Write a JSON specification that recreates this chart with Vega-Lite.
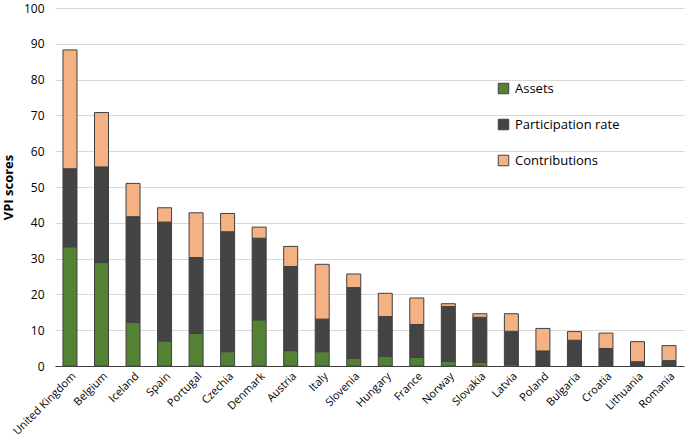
{
  "$schema": "https://vega.github.io/schema/vega-lite/v6.json",
  "width": 685,
  "height": 437,
  "autosize": {"type": "fit", "contains": "padding"},
  "padding": {"left": 2, "top": 2, "right": 1, "bottom": 0},
  "background": "white",
  "config": {
    "font": "Open Sans",
    "view": {"stroke": null}
  },
  "data": {
    "values": [
      {"country": "United Kingdom", "component": "Assets", "value": 33.3, "k": 1},
      {"country": "United Kingdom", "component": "Participation rate", "value": 21.8, "k": 2},
      {"country": "United Kingdom", "component": "Contributions", "value": 33.2, "k": 3},
      {"country": "Belgium", "component": "Assets", "value": 28.9, "k": 1},
      {"country": "Belgium", "component": "Participation rate", "value": 26.7, "k": 2},
      {"country": "Belgium", "component": "Contributions", "value": 15.2, "k": 3},
      {"country": "Iceland", "component": "Assets", "value": 12.2, "k": 1},
      {"country": "Iceland", "component": "Participation rate", "value": 29.5, "k": 2},
      {"country": "Iceland", "component": "Contributions", "value": 9.3, "k": 3},
      {"country": "Spain", "component": "Assets", "value": 7.0, "k": 1},
      {"country": "Spain", "component": "Participation rate", "value": 33.2, "k": 2},
      {"country": "Spain", "component": "Contributions", "value": 4.0, "k": 3},
      {"country": "Portugal", "component": "Assets", "value": 9.1, "k": 1},
      {"country": "Portugal", "component": "Participation rate", "value": 21.2, "k": 2},
      {"country": "Portugal", "component": "Contributions", "value": 12.5, "k": 3},
      {"country": "Czechia", "component": "Assets", "value": 4.0, "k": 1},
      {"country": "Czechia", "component": "Participation rate", "value": 33.5, "k": 2},
      {"country": "Czechia", "component": "Contributions", "value": 5.1, "k": 3},
      {"country": "Denmark", "component": "Assets", "value": 12.9, "k": 1},
      {"country": "Denmark", "component": "Participation rate", "value": 22.8, "k": 2},
      {"country": "Denmark", "component": "Contributions", "value": 3.1, "k": 3},
      {"country": "Austria", "component": "Assets", "value": 4.3, "k": 1},
      {"country": "Austria", "component": "Participation rate", "value": 23.5, "k": 2},
      {"country": "Austria", "component": "Contributions", "value": 5.6, "k": 3},
      {"country": "Italy", "component": "Assets", "value": 4.0, "k": 1},
      {"country": "Italy", "component": "Participation rate", "value": 9.1, "k": 2},
      {"country": "Italy", "component": "Contributions", "value": 15.3, "k": 3},
      {"country": "Slovenia", "component": "Assets", "value": 2.1, "k": 1},
      {"country": "Slovenia", "component": "Participation rate", "value": 19.8, "k": 2},
      {"country": "Slovenia", "component": "Contributions", "value": 3.8, "k": 3},
      {"country": "Hungary", "component": "Assets", "value": 2.7, "k": 1},
      {"country": "Hungary", "component": "Participation rate", "value": 11.1, "k": 2},
      {"country": "Hungary", "component": "Contributions", "value": 6.5, "k": 3},
      {"country": "France", "component": "Assets", "value": 2.4, "k": 1},
      {"country": "France", "component": "Participation rate", "value": 9.2, "k": 2},
      {"country": "France", "component": "Contributions", "value": 7.4, "k": 3},
      {"country": "Norway", "component": "Assets", "value": 1.3, "k": 1},
      {"country": "Norway", "component": "Participation rate", "value": 15.3, "k": 2},
      {"country": "Norway", "component": "Contributions", "value": 0.8, "k": 3},
      {"country": "Slovakia", "component": "Assets", "value": 1.0, "k": 1},
      {"country": "Slovakia", "component": "Participation rate", "value": 12.6, "k": 2},
      {"country": "Slovakia", "component": "Contributions", "value": 1.0, "k": 3},
      {"country": "Latvia", "component": "Assets", "value": 0.5, "k": 1},
      {"country": "Latvia", "component": "Participation rate", "value": 9.2, "k": 2},
      {"country": "Latvia", "component": "Contributions", "value": 4.9, "k": 3},
      {"country": "Poland", "component": "Assets", "value": 0.2, "k": 1},
      {"country": "Poland", "component": "Participation rate", "value": 4.0, "k": 2},
      {"country": "Poland", "component": "Contributions", "value": 6.3, "k": 3},
      {"country": "Bulgaria", "component": "Assets", "value": 0.3, "k": 1},
      {"country": "Bulgaria", "component": "Participation rate", "value": 6.9, "k": 2},
      {"country": "Bulgaria", "component": "Contributions", "value": 2.4, "k": 3},
      {"country": "Croatia", "component": "Assets", "value": 0.3, "k": 1},
      {"country": "Croatia", "component": "Participation rate", "value": 4.6, "k": 2},
      {"country": "Croatia", "component": "Contributions", "value": 4.3, "k": 3},
      {"country": "Lithuania", "component": "Assets", "value": 0.1, "k": 1},
      {"country": "Lithuania", "component": "Participation rate", "value": 1.1, "k": 2},
      {"country": "Lithuania", "component": "Contributions", "value": 5.6, "k": 3},
      {"country": "Romania", "component": "Assets", "value": 0.1, "k": 1},
      {"country": "Romania", "component": "Participation rate", "value": 1.4, "k": 2},
      {"country": "Romania", "component": "Contributions", "value": 4.2, "k": 3}
    ]
  },
  "mark": {"type": "bar", "stroke": "#404040", "strokeWidth": 1, "width": 14},
  "encoding": {
    "x": {
      "field": "country",
      "type": "nominal",
      "sort": null,
      "scale": {"paddingInner": 0.55, "paddingOuter": 0.25},
      "axis": {
        "title": null,
        "labelAngle": -45,
        "labelFontSize": 11,
        "labelColor": "#000000",
        "ticks": false,
        "domainColor": "#404040",
        "domainWidth": 1.2,
        "labelPadding": 4
      }
    },
    "y": {
      "field": "value",
      "type": "quantitative",
      "aggregate": "sum",
      "stack": "zero",
      "scale": {"domain": [0, 100]},
      "axis": {
        "title": "VPI scores",
        "titleFontSize": 13,
        "titleFontWeight": "bold",
        "titleColor": "#000000",
        "titlePadding": 8,
        "values": [0, 10, 20, 30, 40, 50, 60, 70, 80, 90, 100],
        "labelFontSize": 12,
        "labelColor": "#000000",
        "domain": false,
        "ticks": false,
        "labelPadding": 11,
        "gridColor": "#d9d9d9",
        "gridWidth": 1
      }
    },
    "color": {
      "field": "component",
      "type": "nominal",
      "scale": {
        "domain": ["Assets", "Participation rate", "Contributions"],
        "range": ["#548235", "#444444", "#f4b183"]
      },
      "legend": {
        "title": null,
        "orient": "none",
        "legendX": 442,
        "legendY": 74,
        "symbolType": "square",
        "symbolSize": 110,
        "symbolStrokeColor": "#404040",
        "symbolStrokeWidth": 1,
        "labelFontSize": 13,
        "labelColor": "#000000",
        "rowPadding": 21,
        "labelOffset": 5
      }
    },
    "order": {"field": "k", "type": "quantitative"}
  }
}
